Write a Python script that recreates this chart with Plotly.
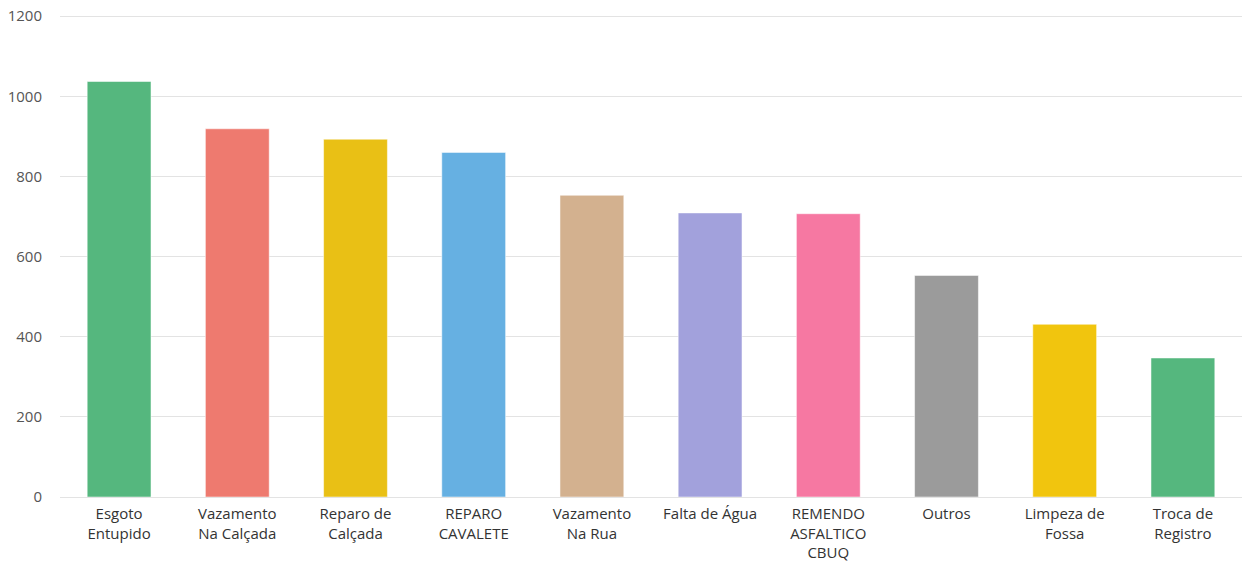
import plotly.graph_objects as go

categories = ["Esgoto<br>Entupido", "Vazamento<br>Na Calçada", "Reparo de<br>Calçada", "REPARO<br>CAVALETE",
              "Vazamento<br>Na Rua", "Falta de Água", "REMENDO<br>ASFALTICO<br>CBUQ", "Outros",
              "Limpeza de<br>Fossa", "Troca de<br>Registro"]
values = [1037, 919, 893, 860, 753, 709, 707, 553, 431, 347]
colors = ["#55B77E", "#EE7A6F", "#E9C015", "#66B0E2", "#D3B18F", "#A2A1DC", "#F678A2", "#9B9B9B", "#F1C50E", "#55B77E"]
y_ticks = [0, 200, 400, 600, 800, 1000, 1200]

fig = go.Figure(go.Bar(
    x=categories, y=values,
    marker=dict(color=colors, line=dict(width=1, color="rgba(255,255,255,0.5)")),
    hoverinfo="x+y",
))

fig.update_layout(
    width=1242, height=565,
    margin=dict(l=60, r=0, t=15, b=68),
    paper_bgcolor="white", plot_bgcolor="white",
    bargap=0.46,
    showlegend=False,
    font=dict(family="Open Sans, Noto Sans, sans-serif", size=14, color="#444"),
    xaxis=dict(showgrid=False, showline=True, linecolor="#e3e3e3", linewidth=1,
               tickfont=dict(size=15, color="#333"), ticks="", ticklabelstandoff=3),
    yaxis=dict(range=[0, 1203], tickvals=y_ticks, showgrid=True, gridcolor="#e3e3e3", gridwidth=1,
               zeroline=False, tickfont=dict(size=15, color="#555"), ticks="", ticklabelstandoff=17),
)

fig.write_html("out.html", config={"displayModeBar": False},
               post_script="document.body.style.margin='0';")
